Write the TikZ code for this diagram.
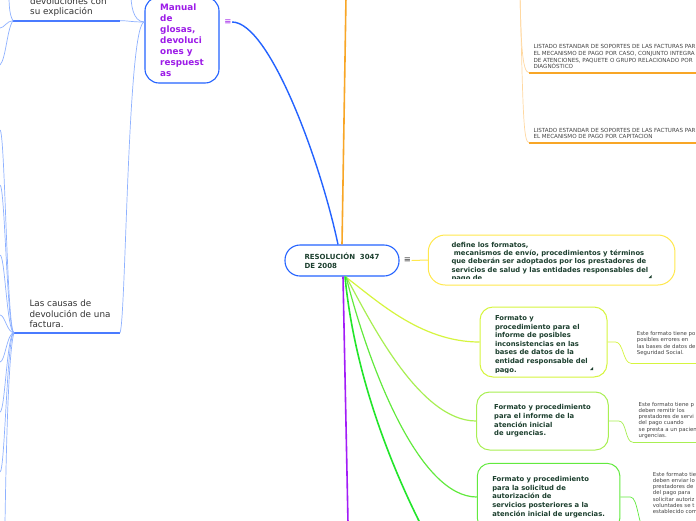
\documentclass[tikz,border=0pt]{standalone}
\usepackage{fontspec}
\setmainfont{DejaVu Sans}
\usepackage{tikz}
\usetikzlibrary{positioning}
\definecolor{ink}      {HTML}{1C3F2E}
\definecolor{menuink}  {HTML}{3A3A3A}
\definecolor{hubblue}  {HTML}{2463FF}
\definecolor{twigblue} {HTML}{8EB1FF}
\definecolor{ruleblue} {HTML}{4A7BFF}
\definecolor{glosa}    {HTML}{9D1CE8}
\definecolor{amber}    {HTML}{F8A626}
\definecolor{paleamber}{HTML}{FFD8A0}
\definecolor{lemon}    {HTML}{FFE84D}
\definecolor{limec}    {HTML}{D6F53E}
\definecolor{springc}  {HTML}{A8EF52}
\definecolor{sproutc}  {HTML}{62EA3E}
\definecolor{vivid}    {HTML}{22E52A}
\definecolor{plum}     {HTML}{A21CF7}
\definecolor{notegray} {HTML}{444444}
\definecolor{leafgray} {HTML}{333333}

\tikzset{
  topic/.style={draw, fill=white, line width=1pt, rounded corners=13pt,
                align=left, text=ink, inner sep=0pt,
                font=\fontsize{6.8}{8.6}\selectfont\bfseries},
  menu/.style={inner sep=0.5pt, font=\fontsize{8.5}{8.5}\selectfont},
  note/.style={anchor=north west, inner sep=0pt, align=left, text=notegray,
               font=\fontsize{5.4}{6.2}\selectfont},
  listing/.style={note, font=\fontsize{5.6}{6.7}\selectfont},
  leaftext/.style={anchor=north west, inner sep=0pt, align=left, text=leafgray,
                   font=\fontsize{8.8}{10.5}\selectfont},
  twig/.style={line width=0.7pt},
  limb/.style={line width=1.6pt},
  underrule/.style={line width=1.6pt},
}

\begin{document}
\begin{tikzpicture}[x=1pt,y=-1pt]
\useasboundingbox (0,0) rectangle (696,520);
\clip (0,0) rectangle (696,520);
\fill[white] (0,0) rectangle (696,520);

% hub and main topics
\node[topic, draw=hubblue, line width=1.1pt, rounded corners=15pt,
      minimum width=114pt, minimum height=31pt,
      font=\fontsize{7}{8.7}\selectfont\bfseries] (resol) at (342,260.5)
  {RESOLUCIÓN\ \ 3047\\DE 2008};
\node[menu, text=menuink, right=3.5pt of resol] (resolmenu) {≡};

\node[topic, draw=hubblue, line width=1.1pt, rounded corners=14pt,
      minimum width=74pt, minimum height=86pt, text=glosa,
      font=\fontsize{8.8}{11}\selectfont\bfseries] (manual) at (182,40)
  {Manual\\de\\glosas,\\devoluci\\ones y\\respuest\\as};
\node[menu, text=glosa, right=4pt of manual.east, yshift=18pt] (manualmenu) {≡};

\node[topic, draw=lemon, rounded corners=17pt,
      minimum width=246.7pt, minimum height=50pt] (define) at (551.6,260) {};
\begin{scope}
  \clip (430,236) rectangle (674,278.5);
  \node[topic, draw=none, fill=none, anchor=north west,
        font=\fontsize{6.8}{8.4}\selectfont\bfseries] (definetext) at (451,241.5)
    {define los formatos,\\\hspace*{2.4pt}mecanismos de envío, procedimientos y términos\\que deberán ser adoptados por los prestadores de\\servicios de salud y las entidades responsables del\\pago de};
\end{scope}
\fill[ink] (648.5,278) -- (651.5,278) -- (651.5,275) -- cycle;

\node[topic, draw=limec, minimum width=127pt, minimum height=70pt] (posibles) at (543.5,342) {};
\begin{scope}
  \clip (481,308) rectangle (606,372.5);
  \node[topic, draw=none, fill=none, anchor=north west] (posiblestext) at (494.5,315)
    {Formato y\\procedimiento para el\\informe de posibles\\inconsistencias en las\\bases de datos de la\\entidad responsable del\\pago.};
\end{scope}
\fill[ink] (590,370) -- (593,370) -- (593,367) -- cycle;

\node[topic, draw=springc, minimum width=131.6pt, minimum height=58pt] (urgencias) at (542.5,421)
  {Formato y procedimiento\\para el informe de la\\atención inicial\\de urgencias.};

\node[topic, draw=sproutc, minimum width=142.7pt, minimum height=67.4pt] (solicitud) at (548.6,497)
  {Formato y procedimiento\\para la solicitud de\\autorización de\\servicios posteriores a la\\atención inicial de urgencias.};

% leaves
\node[leaftext] (devol) at (30,-2.7) {devoluciones con\\su explicación};
\node[leaftext] (causas) at (29.3,300) {Las causas de\\devolución de una\\factura.};

\node[listing] (sop1) at (533.3,44.5)
  {LISTADO ESTANDAR DE SOPORTES DE LAS FACTURAS PAR\\EL MECANISMO DE PAGO POR CASO, CONJUNTO INTEGRA\\DE ATENCIONES, PAQUETE O GRUPO RELACIONADO POR\\DIAGNÓSTICO};
\node[listing] (sop2) at (533.3,127.9)
  {LISTADO ESTANDAR DE SOPORTES DE LAS FACTURAS PAR\\EL MECANISMO DE PAGO POR CAPITACION};

\node[note] (note1) at (636.7,331.3)
  {Este formato tiene po\\posibles errores en\\las bases de datos de\\Seguridad Social.};
\node[note] (note2) at (638.5,402)
  {Este formato tiene p\\deben remitir los\\prestadores de servi\\del pago cuando\\se presta a un pacien\\urgencias.};
\node[note] (note3) at (652.7,472)
  {Este formato tie\\deben enviar lo\\prestadores de\\del pago para\\solicitar autoriz\\voluntades se t\\establecido com};

% free ends and underlines
\coordinate (devolL) at (13,20.7);   \coordinate (devolR) at (120,20.7);
\coordinate (causasL) at (14,332.7); \coordinate (causasR) at (120,332.7);
\coordinate (sop1L) at (529,72.7);   \coordinate (sop1R) at (700,72.7);
\coordinate (sop2L) at (529,142.7);  \coordinate (sop2R) at (700,142.7);
\coordinate (note1L) at (631,363.3); \coordinate (note1R) at (700,363.3);
\coordinate (note2L) at (633,442.3); \coordinate (note2R) at (700,442.3);
\coordinate (note3L) at (646,530);
\coordinate (soportes) at (346,-3);
\coordinate (listados) at (520,-5);
\coordinate (greendown) at (420,523);
\coordinate (plumdown) at (348,523);
\coordinate (manualup) at (131,-5);
\coordinate (devolA) at (0,28);
\coordinate (devolB) at (0,65);
\coordinate (devolC) at (9,-5);
\coordinate (causasdown) at (5,523);

\draw[underrule, ruleblue] (devolL) -- (devolR);
\draw[underrule, ruleblue] (causasL) -- (causasR);
\draw[underrule, amber] (sop1L) -- (sop1R);
\draw[underrule, amber] (sop2L) -- (sop2R);
\draw[underrule, limec] (note1L) -- (note1R);
\draw[underrule, springc] (note2L) -- (note2R);

% connectors
\draw[limb, hubblue, line width=1.4pt] (manualmenu.east) .. controls +(37,0) and +(-18,-85) .. ([xshift=-4pt]resol.north);
\draw[limb, amber] (resol.north) -- (soportes);
\draw[twig, paleamber] (listados) .. controls +(1,45) and +(-7,0) .. (sop1L);
\draw[twig, paleamber] (listados) .. controls +(3,110) and +(-6,0) .. (sop2L);
\draw[twig, lemon, line width=1pt] (resolmenu.east) -- (define.west);
\draw[twig, limec, line width=1.2pt] ([xshift=3pt]resol.south) .. controls +(30,22) and +(-60,0) .. (posibles.west);
\draw[twig, springc, line width=1.2pt] ([xshift=4pt]resol.south) .. controls +(24,44) and +(-57,0) .. (urgencias.west);
\draw[twig, sproutc, line width=1.2pt] ([xshift=4pt]resol.south) .. controls +(24,94) and +(-57,0) .. (solicitud.west);
\draw[limb, vivid] ([xshift=3pt]resol.south) .. controls +(10,104) and +(-25,-50) .. (greendown);
\draw[limb, plum] ([xshift=1pt]resol.south) -- (plumdown);

\draw[twig, limec] (posibles.east) -- ++(8,0) .. controls +(8,0) and +(-8,0) .. (note1L);
\draw[twig, springc] (urgencias.east) -- ++(10,0) .. controls +(8,0) and +(-8,0) .. (note2L);
\draw[twig, sproutc] (solicitud.east) -- ++(10,0) .. controls +(8,0) and +(-8,0) .. (note3L);

\draw[twig, twigblue] ([yshift=18pt]manual.west) .. controls +(-14,0) and +(10,0) .. (devolR);
\draw[twig, twigblue] ([yshift=18pt]manual.west) .. controls +(-12,0) and +(0,8) .. (manualup);
\draw[twig, twigblue] ([yshift=18pt]manual.west) .. controls +(-17,0) and +(6,-13) .. (causasR);
\draw[twig, twigblue] (devolL) .. controls +(-6,0) and +(4,0) .. (devolA);
\draw[twig, twigblue] (devolL) .. controls +(-6,8) and +(6,-6) .. (devolB);
\draw[twig, twigblue] (devolL) .. controls +(-4,-6) and +(0,6) .. (devolC);
\foreach \y [count=\i] in {130,185,255,315,362,412,472} {
  \coordinate (causas\i) at (0,\y);
  \draw[twig, twigblue] (causasL) .. controls +(-7,0) and +(5,0) .. (causas\i);
}
\draw[twig, twigblue] (causasL) .. controls +(-6,20) and +(1,-60) .. (causasdown);
\end{tikzpicture}
\end{document}
